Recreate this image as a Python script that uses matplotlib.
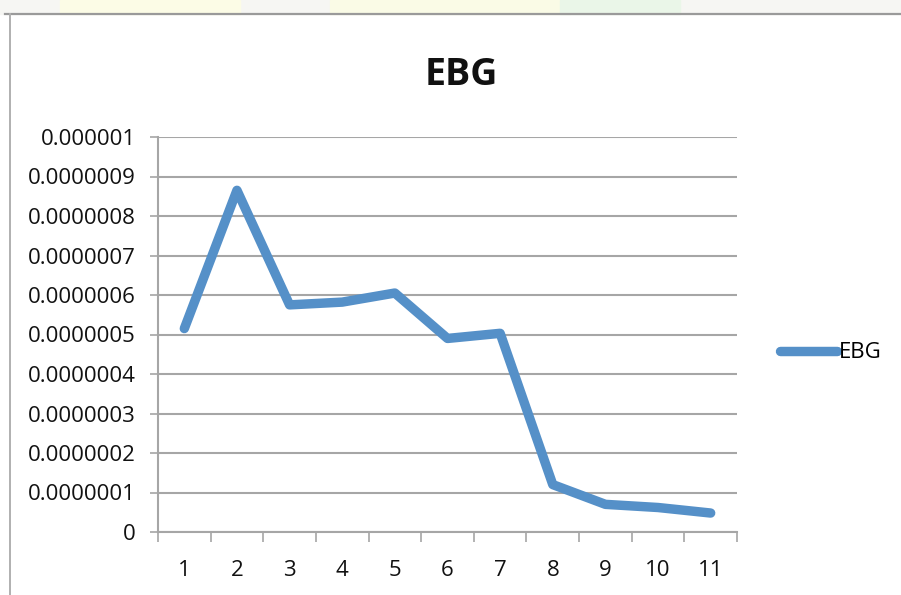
import matplotlib
matplotlib.use("Agg")
import matplotlib.pyplot as plt
from matplotlib.lines import Line2D
from matplotlib.patches import Rectangle

# EBG series, one value per period
periods = ["1", "2", "3", "4", "5", "6", "7", "8", "9", "10", "11"]
ebg = [5.15e-7, 8.65e-7, 5.75e-7, 5.82e-7, 6.05e-7, 4.90e-7, 5.03e-7,
       1.20e-7, 0.70e-7, 0.62e-7, 0.48e-7]

y_ticks = [0, 1e-7, 2e-7, 3e-7, 4e-7, 5e-7, 6e-7, 7e-7, 8e-7, 9e-7, 1e-6]
y_labels = ["0", "0.0000001", "0.0000002", "0.0000003", "0.0000004",
            "0.0000005", "0.0000006", "0.0000007", "0.0000008",
            "0.0000009", "0.000001"]

plt.rcParams['font.family'] = ['Open Sans', 'DejaVu Sans']
blue = '#5590c8'
grey = '#a6a6a6'
fs = 16

W, H = 901, 595
fig = plt.figure(figsize=(W / 100, H / 100), dpi=100)

# faint strip above the chart frame
fig.add_artist(Rectangle((0, 1 - 14 / H), 1, 14 / H, transform=fig.transFigure,
                         color='#f6f6f3', zorder=0))
fig.add_artist(Rectangle((60 / W, 1 - 14 / H), 180 / W, 14 / H, transform=fig.transFigure,
                         color='#fcfce6', zorder=0))
fig.add_artist(Rectangle((330 / W, 1 - 14 / H), 240 / W, 14 / H, transform=fig.transFigure,
                         color='#fafbe6', zorder=0))
fig.add_artist(Rectangle((560 / W, 1 - 14 / H), 120 / W, 14 / H, transform=fig.transFigure,
                         color='#eaf6e8', zorder=0))

# chart frame
fig.add_artist(Line2D([5 / W, 1], [1 - 14 / H, 1 - 14 / H], transform=fig.transFigure,
                      color='#9a9a9a', lw=1.6))
fig.add_artist(Line2D([10 / W, 10 / W], [0, 1 - 14 / H], transform=fig.transFigure,
                      color='#b0b0b0', lw=1.4))

ax = fig.add_axes([158 / W, 1 - 532 / H, (737 - 158) / W, (532 - 137) / H])

x = list(range(1, len(periods) + 1))
ax.plot(x, ebg, color=blue, lw=6.8, solid_capstyle='round',
        solid_joinstyle='round', label='EBG', zorder=3)

ax.set_xlim(0.5, len(periods) + 0.5)
ax.set_ylim(0, 1e-6)

ax.set_yticks(y_ticks)
ax.set_yticklabels(y_labels, fontsize=fs, color='#111111')
ax.tick_params(axis='y', length=6, width=1.2, color=grey, pad=10)

# tick marks between categories, labels centred on categories
ax.set_xticks([i + 0.5 for i in range(0, len(periods) + 1)])
ax.set_xticklabels([])
ax.set_xticks(x, minor=True)
ax.set_xticklabels(periods, minor=True, fontsize=fs, color='#111111')
ax.tick_params(axis='x', which='major', length=7, width=1.2, color=grey)
ax.tick_params(axis='x', which='minor', length=0, pad=20)

ax.grid(axis='y', color=grey, lw=1.5)
ax.set_axisbelow(True)
for s in ['top', 'right']:
    ax.spines[s].set_visible(False)
for s in ['left', 'bottom']:
    ax.spines[s].set_color(grey)
    ax.spines[s].set_linewidth(1.5)

fig.text(461 / W, 1 - 75 / H, 'EBG', ha='center', va='center',
         fontsize=27, fontweight='bold', color='#111111')

fig.legend(loc='center left', bbox_to_anchor=(780 / W, 1 - 353 / H), frameon=False,
           fontsize=fs, handlelength=2.55, handletextpad=0.1, borderpad=0,
           borderaxespad=0)

fig.savefig('out.png', dpi=100)
